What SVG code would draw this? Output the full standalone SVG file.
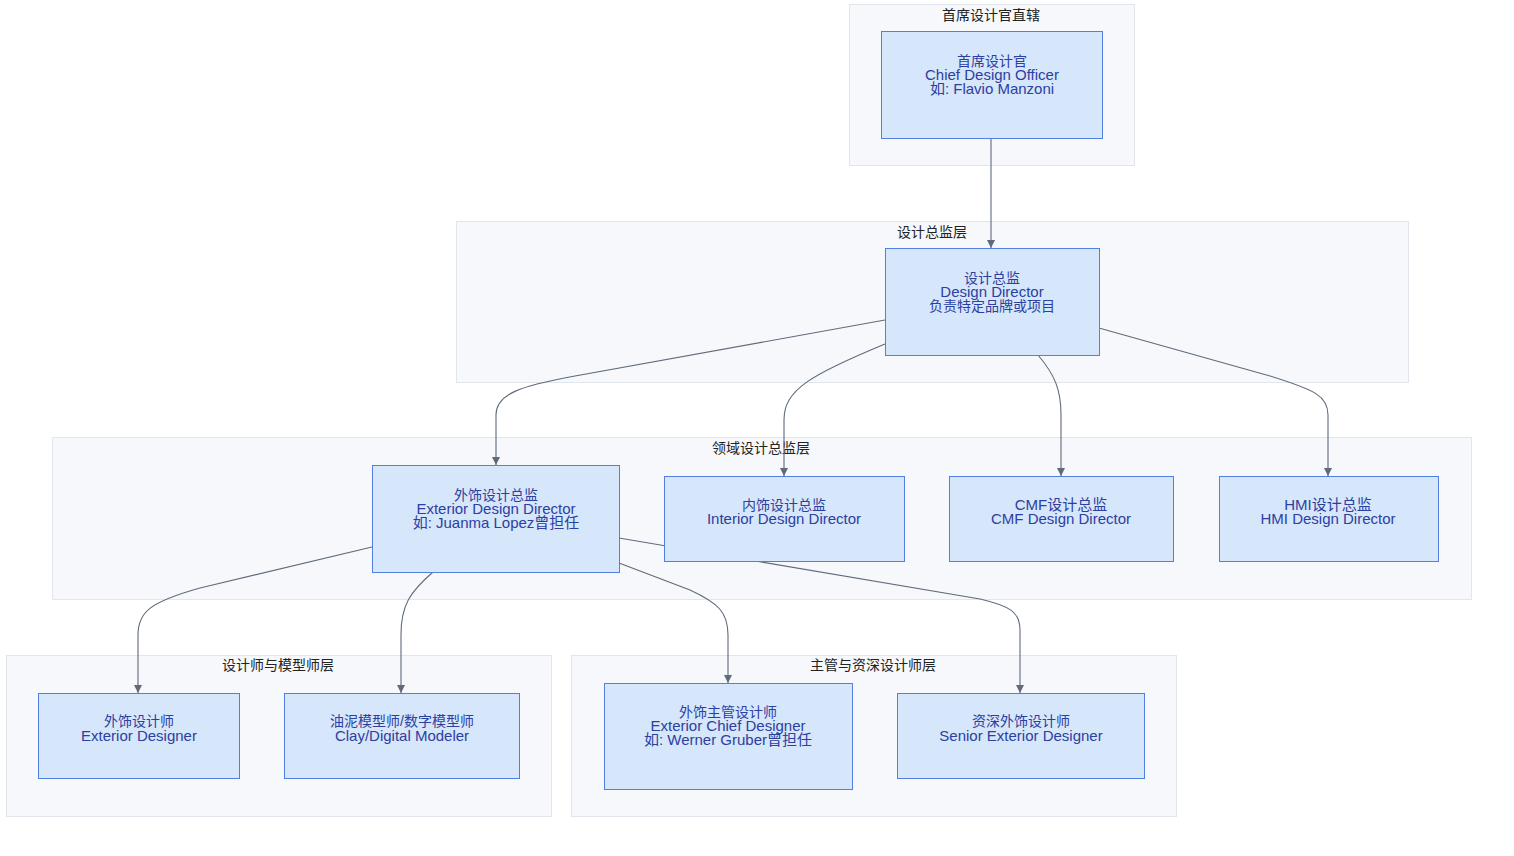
<svg xmlns="http://www.w3.org/2000/svg" width="1514" height="856" viewBox="0 0 1514 856">
<style>
.cl{fill:#f6f8fb;stroke:#e1e5ec;stroke-width:1}
.ct{font-family:"Liberation Sans","Noto Sans CJK SC",sans-serif;font-size:14px;fill:#222;text-anchor:middle}
.nd{fill:#d6e6fb;stroke:#4f80e2;stroke-width:1}
.nt{font-family:"Liberation Sans","Noto Sans CJK SC",sans-serif;font-size:15px;fill:#2c40a0;text-anchor:middle}
.zh{font-size:14px}
.ed{fill:none;stroke:#5f6b7c;stroke-width:1.1}
</style>
<defs>
<marker id="arr" viewBox="0 0 10 10" refX="10" refY="5" markerWidth="8" markerHeight="8" markerUnits="userSpaceOnUse" orient="auto">
<path d="M0,0 L10,5 L0,10 z" fill="#5f6b7c"/>
</marker>
</defs>
<rect width="1514" height="856" fill="#ffffff"/>
<g id="clusters">
<g id="c1"><rect class="cl" x="849.5" y="4.5" width="285" height="161"/><text class="ct" x="991" y="20">首席设计官直辖</text></g>
<g id="c2"><rect class="cl" x="456.5" y="221.5" width="952" height="161"/><text class="ct" x="932" y="237">设计总监层</text></g>
<g id="c3"><rect class="cl" x="52.5" y="437.5" width="1419" height="162"/><text class="ct" x="761" y="453">领域设计总监层</text></g>
<g id="c4"><rect class="cl" x="6.5" y="655.5" width="545" height="161"/><text class="ct" x="278" y="670">设计师与模型师层</text></g>
<g id="c5"><rect class="cl" x="571.5" y="655.5" width="605" height="161"/><text class="ct" x="873" y="670">主管与资深设计师层</text></g>
</g>
<g id="edges">
<path class="ed" marker-end="url(#arr)" d="M991,138 L991,248"/>
<path class="ed" marker-end="url(#arr)" d="M885,320 L575,376 C520,386 496,394 496,415 L496,465"/>
<path class="ed" marker-end="url(#arr)" d="M885,344 C810,375 784,390 784,420 L784,476"/>
<path class="ed" marker-end="url(#arr)" d="M1038,355 C1055,375 1061,390 1061,415 L1061,476"/>
<path class="ed" marker-end="url(#arr)" d="M1099,328 L1270,376 C1315,390 1328,396 1328,415 L1328,476"/>
<path class="ed" marker-end="url(#arr)" d="M372,547 L200,588 C150,602 138,612 138,635 L138,693"/>
<path class="ed" marker-end="url(#arr)" d="M433,572 C410,592 401,605 401,635 L401,693"/>
<path class="ed" marker-end="url(#arr)" d="M619,563 L690,590 C718,603 728,612 728,635 L728,683"/>
<path class="ed" marker-end="url(#arr)" d="M619,538 L980,599 C1010,606 1020,612 1020,630 L1020,693"/>
</g>
<g id="n_cdo"><rect class="nd" x="881.5" y="31.5" width="221" height="107"/><text class="nt zh" x="992" y="66">首席设计官</text><text class="nt" x="992" y="80">Chief Design Officer</text><text class="nt" x="992" y="94">如: Flavio Manzoni</text></g>
<g id="n_dd"><rect class="nd" x="885.5" y="248.5" width="214" height="107"/><text class="nt zh" x="992" y="283">设计总监</text><text class="nt" x="992" y="297">Design Director</text><text class="nt zh" x="992" y="311">负责特定品牌或项目</text></g>
<g id="n_ext"><rect class="nd" x="372.5" y="465.5" width="247" height="107"/><text class="nt zh" x="496" y="500">外饰设计总监</text><text class="nt" x="496" y="514">Exterior Design Director</text><text class="nt" x="496" y="528">如: Juanma Lopez曾担任</text></g>
<g id="n_int"><rect class="nd" x="664.5" y="476.5" width="240" height="85"/><text class="nt zh" x="784" y="510">内饰设计总监</text><text class="nt" x="784" y="524">Interior Design Director</text></g>
<g id="n_cmf"><rect class="nd" x="949.5" y="476.5" width="224" height="85"/><text class="nt" x="1061" y="510">CMF设计总监</text><text class="nt" x="1061" y="524">CMF Design Director</text></g>
<g id="n_hmi"><rect class="nd" x="1219.5" y="476.5" width="219" height="85"/><text class="nt" x="1328" y="510">HMI设计总监</text><text class="nt" x="1328" y="524">HMI Design Director</text></g>
<g id="n_extd"><rect class="nd" x="38.5" y="693.5" width="201" height="85"/><text class="nt zh" x="139" y="726">外饰设计师</text><text class="nt" x="139" y="741">Exterior Designer</text></g>
<g id="n_clay"><rect class="nd" x="284.5" y="693.5" width="235" height="85"/><text class="nt zh" x="402" y="726">油泥模型师/数字模型师</text><text class="nt" x="402" y="741">Clay/Digital Modeler</text></g>
<g id="n_chief"><rect class="nd" x="604.5" y="683.5" width="248" height="106"/><text class="nt zh" x="728" y="717">外饰主管设计师</text><text class="nt" x="728" y="731">Exterior Chief Designer</text><text class="nt" x="728" y="745">如: Werner Gruber曾担任</text></g>
<g id="n_senior"><rect class="nd" x="897.5" y="693.5" width="247" height="85"/><text class="nt zh" x="1021" y="726">资深外饰设计师</text><text class="nt" x="1021" y="741">Senior Exterior Designer</text></g>
</svg>
